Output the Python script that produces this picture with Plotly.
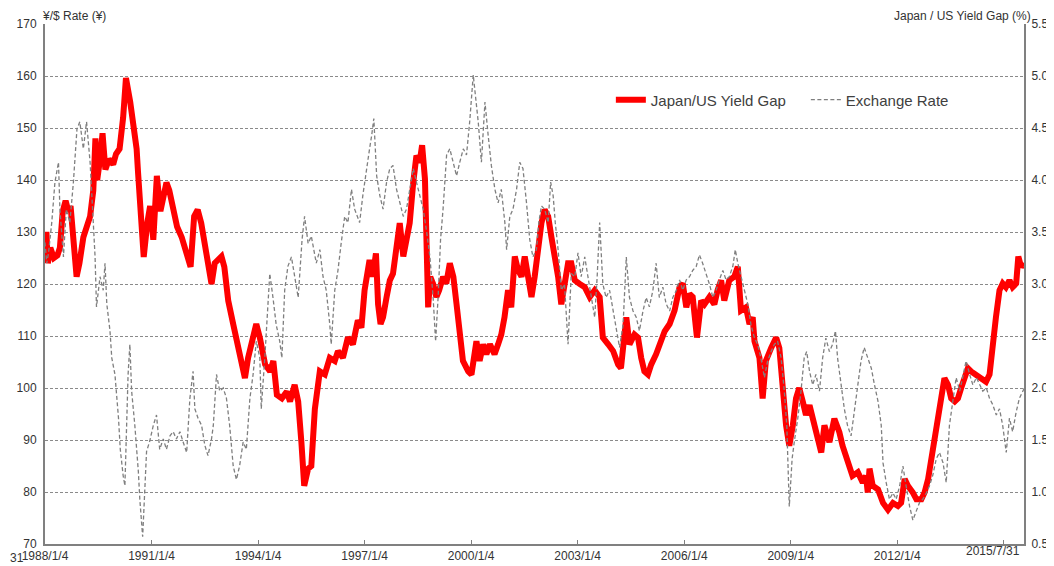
import pandas as pd
import plotly.graph_objects as go

# ---- data (decimal years) ----
red_years = [1988.00,1988.04,1988.08,1988.15,1988.25,1988.35,1988.42,1988.50,1988.58,1988.66,1988.72,1988.80,1988.89,1988.97,
1989.08,1989.27,1989.36,1989.42,1989.47,1989.55,1989.62,1989.70,1989.80,1989.92,1990.00,1990.10,1990.20,1990.28,1990.33,1990.40,
1990.50,1990.58,1990.62,1990.70,1990.78,1990.88,1990.96,1991.05,1991.15,1991.25,1991.32,1991.42,1991.50,1991.62,1991.72,1991.85,
1992.00,1992.10,1992.20,1992.30,1992.40,1992.50,1992.60,1992.69,1992.78,1992.97,1993.05,1993.16,1993.30,1993.44,1993.52,1993.63,
1993.72,1993.81,1993.95,1994.05,1994.20,1994.34,1994.43,1994.53,1994.67,1994.81,1994.90,1995.03,1995.13,1995.22,1995.30,1995.41,
1995.50,1995.60,1995.74,1995.88,1996.02,1996.16,1996.25,1996.39,1996.53,1996.67,1996.81,1996.91,1997.00,1997.14,1997.23,1997.32,
1997.38,1997.45,1997.52,1997.62,1997.71,1997.80,1997.90,1997.99,1998.09,1998.18,1998.27,1998.37,1998.46,1998.55,1998.62,1998.70,
1998.74,1998.79,1998.85,1998.93,1999.02,1999.10,1999.21,1999.30,1999.40,1999.50,1999.59,1999.68,1999.77,1999.92,2000.01,2000.15,
2000.24,2000.34,2000.43,2000.53,2000.66,2000.76,2000.85,2000.94,2001.04,2001.13,2001.23,2001.32,2001.42,2001.51,2001.60,2001.70,
2001.79,2001.88,2001.98,2002.07,2002.17,2002.26,2002.35,2002.45,2002.54,2002.63,2002.73,2002.82,2002.92,2003.06,2003.20,2003.34,
2003.48,2003.62,2003.71,2003.86,2004.00,2004.14,2004.22,2004.37,2004.46,2004.60,2004.70,2004.79,2004.88,2004.98,2005.07,2005.21,
2005.30,2005.45,2005.59,2005.73,2005.87,2005.96,2006.06,2006.15,2006.24,2006.36,2006.48,2006.57,2006.71,2006.85,2006.94,2007.04,
2007.13,2007.27,2007.41,2007.51,2007.60,2007.74,2007.84,2007.93,2007.98,2008.12,2008.21,2008.30,2008.45,2008.59,2008.68,2008.77,
2008.87,2008.96,2009.06,2009.15,2009.24,2009.34,2009.43,2009.53,2009.62,2009.76,2009.86,2009.95,2010.09,2010.23,2010.37,2010.46,
2010.60,2010.74,2010.89,2011.03,2011.12,2011.17,2011.22,2011.31,2011.46,2011.60,2011.74,2011.88,2012.02,2012.11,2012.21,2012.30,
2012.44,2012.54,2012.68,2012.77,2012.87,2012.96,2013.05,2013.15,2013.24,2013.33,2013.43,2013.52,2013.62,2013.71,2013.80,2013.90,
2013.99,2014.08,2014.22,2014.36,2014.50,2014.60,2014.69,2014.78,2014.88,2014.97,2015.06,2015.16,2015.25,2015.35,2015.41,2015.49,2015.58]
red_values = [124,130,124,127,125,125.5,127,134,136,134,135,127,121.4,124,
129,133,138,148,140,144,149,142,144,143,145,146,152,159.6,158,155,
150,146,141.5,131.7,125.2,131.7,135,128.5,140.8,134,137,139.5,138,134,131,129,
125.3,123.3,133,134.3,131.7,127.2,124,120,124,125.3,123.3,116.8,112.3,108.4,105.8,101.9,
105.8,108.4,112.3,109.7,104.5,103.2,105.2,98.7,98,99.3,97.4,100.6,97.4,89.6,81.2,84.5,
85,96,103.2,102.6,105.8,105.2,107.1,105.8,109.7,108.4,113,111.6,118.8,124.6,121.4,125.9,
116.1,112.3,113.6,117.5,120.7,122,127.2,131.7,125.3,129.1,131.7,139.5,144.7,143.4,146.7,140.2,
130.4,115.5,121.4,120,117.5,118.8,121.4,120.1,124,121.4,116.1,109.7,105.2,103.2,102.6,109,
105.2,108.4,106.5,108.4,106.5,108.4,110.3,113.6,118.8,115.5,125.3,122.7,121.4,125.3,121.4,117.5,
121.4,126.6,131.7,134.3,133,129.1,125.9,121.4,116.1,120.1,124,124,120.7,120,119.4,117.5,
118.8,117.5,109.7,108.4,107.1,104.5,103.8,113.6,108.4,110.3,109.7,105.8,103.2,102.6,104.5,106.5,
108.4,110.9,112.3,114.9,119.4,120.1,115.5,118.1,117.5,109.7,116.8,116.1,117.5,116.1,118.8,120.7,
116.8,120.7,121.4,123.3,114.9,115.5,112.3,113.6,109,105.8,98,105.2,107.7,109.7,107.7,99.3,
92.8,88.9,92.8,98,100,97.4,94.8,96.7,94.1,90.9,87.6,92.8,89.6,94.1,91.5,88.9,
85.7,83.1,83.8,81.8,83.1,79.9,84.5,81.2,80.5,77.9,76.6,77.9,77.3,77.9,82.5,81.2,
79.9,78.6,78.6,79.9,82.5,86.3,91.5,94.8,98,101.9,100.6,98,97.4,98,100,101.9,
103.8,103.2,102.6,101.9,101.2,102.6,107.1,113.6,118.8,120.1,119.4,120.7,119.4,120.1,125.3,123.3,124]

grey_years = [1988.00,1988.05,1988.10,1988.19,1988.28,1988.38,1988.42,1988.52,1988.60,1988.70,1988.80,1988.90,1988.98,1989.08,
1989.17,1989.27,1989.36,1989.41,1989.45,1989.55,1989.64,1989.69,1989.74,1989.83,1989.88,1989.97,1990.07,1990.12,1990.20,1990.25,
1990.34,1990.39,1990.44,1990.53,1990.63,1990.67,1990.75,1990.81,1990.86,1990.95,1991.05,1991.14,1991.23,1991.33,1991.42,1991.52,
1991.61,1991.70,1991.80,1991.89,1991.99,1992.08,1992.17,1992.22,1992.31,1992.41,1992.50,1992.59,1992.69,1992.74,1992.83,1992.92,
1993.02,1993.11,1993.20,1993.30,1993.39,1993.48,1993.58,1993.67,1993.77,1993.86,1993.95,1994.05,1994.09,1994.19,1994.26,1994.33,
1994.42,1994.51,1994.61,1994.67,1994.75,1994.84,1994.94,1995.03,1995.13,1995.24,1995.31,1995.41,1995.50,1995.64,1995.74,1995.83,
1995.92,1996.02,1996.06,1996.16,1996.25,1996.34,1996.44,1996.53,1996.63,1996.72,1996.86,1996.95,1997.05,1997.14,1997.20,1997.26,
1997.34,1997.43,1997.52,1997.62,1997.71,1997.80,1997.90,1997.99,1998.09,1998.18,1998.27,1998.37,1998.46,1998.55,1998.65,1998.74,
1998.84,1998.93,1999.00,1999.07,1999.14,1999.21,1999.31,1999.40,1999.50,1999.59,1999.68,1999.78,1999.87,1999.96,2000.06,2000.13,
2000.20,2000.29,2000.39,2000.48,2000.57,2000.67,2000.76,2000.85,2000.95,2001.00,2001.09,2001.18,2001.28,2001.37,2001.46,2001.56,
2001.65,2001.74,2001.84,2001.91,2001.98,2002.07,2002.17,2002.24,2002.31,2002.37,2002.45,2002.54,2002.63,2002.73,2002.82,2002.92,
2003.01,2003.10,2003.20,2003.29,2003.38,2003.48,2003.55,2003.62,2003.71,2003.80,2003.90,2004.00,2004.09,2004.18,2004.28,2004.37,
2004.46,2004.56,2004.65,2004.74,2004.84,2004.93,2005.02,2005.12,2005.21,2005.30,2005.40,2005.49,2005.59,2005.68,2005.78,2005.87,
2005.96,2006.06,2006.15,2006.24,2006.34,2006.43,2006.52,2006.62,2006.71,2006.81,2006.90,2006.99,2007.09,2007.18,2007.27,2007.37,
2007.44,2007.51,2007.60,2007.70,2007.79,2007.88,2007.98,2008.07,2008.16,2008.26,2008.35,2008.45,2008.54,2008.63,2008.73,2008.82,
2008.89,2008.96,2009.04,2009.10,2009.20,2009.29,2009.38,2009.45,2009.53,2009.62,2009.71,2009.81,2009.90,2009.99,2010.09,2010.18,
2010.26,2010.32,2010.41,2010.51,2010.60,2010.70,2010.79,2010.88,2010.98,2011.07,2011.17,2011.27,2011.36,2011.46,2011.55,2011.60,
2011.69,2011.78,2011.88,2011.97,2012.07,2012.16,2012.25,2012.35,2012.44,2012.54,2012.63,2012.72,2012.82,2012.91,2013.00,2013.10,
2013.19,2013.29,2013.38,2013.47,2013.57,2013.66,2013.76,2013.85,2013.94,2014.04,2014.13,2014.23,2014.32,2014.41,2014.51,2014.60,
2014.69,2014.79,2014.88,2014.97,2015.07,2015.16,2015.25,2015.35,2015.44,2015.54,2015.58]
grey_values = [3.4,3.2,3.3,3.59,3.98,4.17,3.72,3.26,3.72,3.59,3.98,4.49,4.56,4.3,
4.56,4.17,3.59,3.26,2.78,3.07,2.94,3.2,2.81,2.55,2.29,2.13,1.71,1.41,1.16,1.06,
2.13,2.42,1.97,1.64,1.19,0.93,0.57,1.06,1.39,1.49,1.64,1.74,1.41,1.51,1.41,1.54,
1.58,1.51,1.58,1.48,1.38,1.9,2.16,1.8,1.71,1.64,1.45,1.35,1.51,1.64,2.13,1.97,
2.0,1.9,1.64,1.25,1.12,1.25,1.48,1.41,1.9,2.13,2.45,2.29,1.8,2.29,2.74,3.1,
2.87,2.61,2.45,2.29,2.94,3.17,3.26,3.07,2.87,3.43,3.65,3.39,3.46,3.2,3.33,3.07,
2.94,2.61,2.42,2.94,3.13,3.39,3.65,3.59,3.91,3.72,3.59,3.85,4.11,4.3,4.43,4.59,
4.04,3.85,3.72,3.98,4.11,4.14,3.91,3.78,3.65,3.72,3.91,4.11,3.98,3.85,3.72,3.52,
3.26,2.87,2.45,2.87,3.43,3.72,4.24,4.3,4.17,4.04,4.17,4.3,4.24,4.56,5.01,4.79,
4.56,4.17,4.75,4.43,4.14,3.91,3.78,3.91,3.59,3.33,3.65,3.72,3.91,4.17,4.11,3.78,
3.43,3.26,3.33,3.6,3.75,3.72,3.59,3.98,3.85,3.59,3.33,2.94,3.0,2.42,3.1,3.07,
3.3,3.07,3.26,3.07,2.87,2.68,3.07,3.59,3.0,2.87,2.94,2.74,2.55,2.39,2.61,3.26,
2.87,2.74,2.68,2.55,2.74,2.87,2.78,2.94,3.2,2.87,2.97,2.81,2.74,2.87,2.94,3.04,
2.94,3.04,3.07,3.13,3.17,3.28,3.2,3.1,3.0,2.87,2.94,3.04,3.13,3.04,3.07,3.17,
3.33,3.2,3.07,2.94,2.81,2.61,2.48,2.42,2.29,2.1,2.26,2.35,2.42,2.45,2.29,1.97,
1.64,0.86,1.32,1.48,1.71,1.97,2.29,2.35,2.16,2.03,2.13,1.97,2.29,2.48,2.35,2.42,
2.55,2.29,2.03,1.8,1.64,1.54,1.77,2.03,2.26,2.39,2.29,2.19,2.03,1.87,1.64,1.28,
1.09,0.93,0.99,0.93,1.06,1.25,1.06,0.86,0.73,0.83,0.9,0.93,0.99,1.06,1.16,1.32,
1.38,1.28,1.09,1.64,1.9,2.1,1.97,2.1,2.26,2.13,2.03,2.1,2.03,1.97,2.0,1.9,
1.84,1.74,1.8,1.64,1.38,1.71,1.58,1.77,1.9,1.97,2.0]

tick_dates = ["1988-01-04","1991-01-04","1994-01-04","1997-01-04","2000-01-04",
              "2003-01-04","2006-01-04","2009-01-04","2012-01-04","2015-01-04"]
tick_labels = ["1988/1/4","1991/1/4","1994/1/4","1997/1/4","2000/1/4",
               "2003/1/4","2006/1/4","2009/1/4","2012/1/4",""]
end_label = "2015/7/31"

base = pd.Timestamp("1988-01-04")
def to_dates(years):
    return [base + pd.Timedelta(days=(y - 1988.0) * 365.25) for y in years]

FONT = "Liberation Sans, Arial, sans-serif"
TXT = "#333333"
GRID = "#8a8a8a"
AX = "#808080"

fig = go.Figure()
fig.add_trace(go.Scatter(x=to_dates(red_years), y=red_values, name="Japan/US Yield Gap",
                         mode="lines", line=dict(color="#ff0000", width=6), yaxis="y"))
fig.add_trace(go.Scatter(x=to_dates(grey_years), y=grey_values, name="Exchange Rate",
                         mode="lines", line=dict(color="#7f7f7f", width=1.3, dash="4px,2.5px"), yaxis="y2"))

# page is offset by the 8px body margin, so the figure is 8px smaller on each side
TOP = 1 + 16 / 520  # paper y of the figure's top edge
fig.update_layout(
    width=1046, height=558,
    margin=dict(l=37, r=30, t=16, b=22, autoexpand=False),
    paper_bgcolor="white", plot_bgcolor="white",
    font=dict(family=FONT, size=12, color=TXT),
    showlegend=True,
    legend=dict(orientation="h", x=0.578, y=0.854, xanchor="left", yanchor="middle",
                entrywidth=150, entrywidthmode="pixels",
                font=dict(size=15, color="#404040"), bgcolor="rgba(0,0,0,0)"),
    xaxis=dict(type="date", range=["1988-01-04", "2015-07-31"], automargin=False,
               tickmode="array", tickvals=tick_dates, ticktext=tick_labels,
               ticks="inside", ticklen=4, tickcolor=AX, tickwidth=1,
               showline=True, linecolor=AX, linewidth=2, showgrid=False,
               tickfont=dict(size=12, color=TXT)),
    yaxis=dict(range=[70, 170], dtick=10, tick0=70, showline=True, linecolor=AX, linewidth=2,
               automargin=False, ticklabelstandoff=4,
               showgrid=True, gridcolor=GRID, griddash="3px,2px", gridwidth=1,
               zeroline=False, ticks="", tickfont=dict(size=12, color=TXT)),
    yaxis2=dict(range=[0.5, 5.5], dtick=0.5, tick0=0.5, overlaying="y", side="right",
                automargin=False, ticklabelstandoff=3,
                showline=True, linecolor=AX, linewidth=2, showgrid=False, zeroline=False,
                ticks="", tickformat=".1f", tickfont=dict(size=12, color=TXT)),
    annotations=[
        dict(text="¥/$ Rate (¥)", xref="paper", yref="paper", x=-0.004, y=TOP,
             xanchor="left", yanchor="top", showarrow=False, borderpad=0,
             font=dict(size=12, color=TXT)),
        dict(text="Japan / US Yield Gap (%)", xref="paper", yref="paper", x=1.008, y=TOP,
             xanchor="right", yanchor="top", showarrow=False, borderpad=0,
             font=dict(size=12, color=TXT)),
        dict(text=end_label, xref="x", yref="paper", x=tick_dates[-1], y=0,
             xanchor="center", yanchor="top", showarrow=False, xshift=-11, yshift=2,
             font=dict(size=12, color=TXT)),
        dict(text="31", xref="paper", yref="paper", x=-0.038, y=0,
             xanchor="left", yanchor="top", showarrow=False, yshift=-5,
             font=dict(size=12, color=TXT)),
    ],
)

fig.write_html("out.html")
